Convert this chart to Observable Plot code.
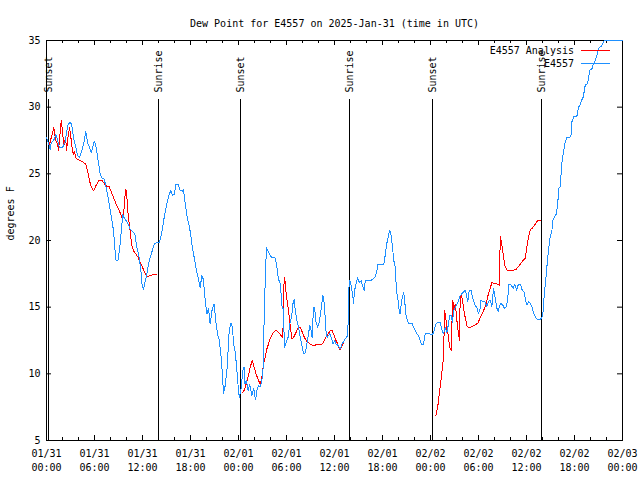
<!DOCTYPE html>
<html><head><meta charset="utf-8">
<script src="https://cdn.jsdelivr.net/npm/d3@7"></script>
<script src="https://cdn.jsdelivr.net/npm/@observablehq/plot@0.6"></script>
<style>html,body{margin:0;padding:0;background:#fff} svg{display:block}</style>
</head><body><div id="chart"></div>
<script>
const titleText = "Dew Point for E4557 on 2025-Jan-31 (time in UTC)";
const yLabelText = "degrees F";
const startTime = "2025-01-31T00:00:00Z";
const endTime = "2025-02-03T00:00:00Z";

const seriesNames = ["E4557 Analysis", "E4557"];
const seriesColors = ["#ff0000", "#1e90ff"];

// E4557 observations: hours after start, dew point (F)
const obsHours = [0.0,0.3,0.46,0.6,0.9,1.17,1.4,1.6,2.0,2.3,2.7,2.96,3.15,3.4,3.67,3.88,4.13,4.38,4.63,4.92,5.13,5.46,5.6,5.96,6.17,6.46,6.71,6.88,7.21,7.42,7.71,8.04,8.38,8.59,8.67,8.96,9.21,9.42,9.54,9.7,10.13,10.46,10.75,11.04,11.3,11.58,11.8,11.9,12.13,12.3,12.54,12.84,13.1,13.46,13.8,14.1,14.38,14.71,15.04,15.34,15.54,15.75,16.0,16.17,16.46,16.71,17.0,17.1,17.3,17.55,17.84,18.04,18.17,18.46,18.71,19.0,19.21,19.42,19.6,19.84,20.05,20.25,20.46,20.7,20.96,21.2,21.38,21.6,21.8,21.96,22.13,22.33,22.55,22.7,22.84,23.05,23.25,23.38,23.6,23.8,24.0,24.1,24.3,24.55,24.7,24.8,25.0,25.2,25.4,25.67,25.9,26.13,26.3,26.5,26.7,26.9,27.13,27.2,27.38,27.5,27.75,28.17,28.6,28.8,29.0,29.25,29.42,29.6,29.75,29.9,30.2,30.4,30.63,30.8,30.96,31.1,31.3,31.5,31.71,31.9,32.13,32.35,32.55,32.75,32.9,33.0,33.2,33.38,33.5,33.7,33.9,34.1,34.3,34.55,34.7,34.85,34.96,35.1,35.4,35.6,35.83,36.0,36.2,36.5,36.7,36.96,37.3,37.67,37.75,37.92,38.1,38.3,38.38,38.5,38.7,38.88,39.1,39.35,39.5,39.7,39.84,40.5,40.8,41.1,41.3,41.42,42.13,42.25,42.4,42.6,42.8,42.88,43.05,43.25,43.42,43.59,43.75,43.96,44.09,44.2,44.4,44.63,44.75,44.9,45.1,45.25,45.67,45.9,46.09,46.3,46.5,46.7,46.92,47.13,47.34,47.6,47.96,48.25,48.46,48.67,48.92,49.2,49.4,49.63,49.84,50.05,50.25,50.38,50.6,50.75,50.9,51.1,51.3,51.5,51.71,51.9,52.1,52.34,52.55,52.67,52.84,53.1,53.25,53.5,53.8,54.0,54.2,54.3,54.55,54.8,55.05,55.25,55.46,55.67,55.88,56.1,56.3,56.5,56.6,56.8,57.04,57.2,57.5,57.67,57.8,58.08,58.33,58.54,58.75,58.96,59.25,59.46,59.67,59.88,60.05,60.25,60.46,60.67,60.88,61.1,61.38,61.7,61.96,62.1,62.2,62.4,62.55,62.75,62.96,63.17,63.3,63.5,63.75,63.9,64.05,64.2,64.42,64.6,64.8,65.05,65.55,65.67,65.9,66.3,66.5,66.7,66.9,67.1,67.34,67.6,67.75,67.9,68.2,68.38,68.6,68.8,69.0,69.2,69.4,69.7,72.0];
const obsDewpoint = [27.7,27.2,26.85,27.35,27.5,27.97,27.5,26.97,26.97,27.35,28.72,28.85,28.7,27.6,26.97,26.35,26.2,26.7,27.2,28.17,27.35,26.85,26.6,27.47,27.1,25.97,24.98,24.7,24.6,24.1,23.22,21.98,20.73,19.1,18.53,18.53,19.73,21.2,21.98,21.7,21.35,20.85,20.7,20.48,19.48,18.73,17.73,16.86,16.29,16.86,17.48,18.48,18.98,19.73,19.85,19.85,20.48,21.73,22.73,23.48,23.73,23.4,23.48,24.23,24.23,23.73,23.7,23.85,22.98,21.85,21.1,20.4,19.73,18.73,17.86,17.1,16.48,17.36,17.1,15.49,14.49,14.9,13.74,14.8,15.24,13.74,12.99,12.5,11.49,10.24,8.5,9.1,10.24,11.74,13.24,13.8,13.5,12.24,11.6,10.24,8.75,8.25,8.75,10.24,10.5,9.24,9.5,8.75,9.24,8.37,8.9,8.05,8.75,9.1,9.0,9.4,10.74,14.2,17.73,19.48,19.1,18.69,18.69,17.98,17.1,16.7,15.1,14.85,11.99,12.24,12.74,13.74,14.24,15.24,15.6,14.74,13.99,13.5,12.74,12.24,11.49,11.6,12.24,12.99,13.6,13.5,12.74,14.99,14.99,13.86,13.5,13.86,14.74,15.86,15.36,14.11,12.99,12.74,12.99,12.74,12.24,12.5,12.24,12.1,11.87,12.24,12.6,12.87,16.24,16.98,16.6,15.8,15.24,16.24,16.74,17.23,16.86,16.98,16.6,16.24,16.98,16.98,17.1,17.28,17.73,18.18,18.18,18.48,19.23,19.98,20.48,20.78,20.48,19.48,18.48,17.98,16.24,15.49,14.74,14.49,15.49,16.11,15.74,14.49,13.99,13.79,13.79,13.49,13.24,12.99,12.87,12.49,12.19,12.19,13.04,13.04,12.99,12.93,13.24,13.74,13.86,13.86,13.36,12.99,13.49,13.11,13.74,14.36,14.36,13.86,14.74,14.99,15.24,15.49,15.86,15.99,16.11,16.29,15.74,15.44,16.24,16.24,15.74,15.24,14.94,14.49,14.86,15.49,15.44,15.4,15.04,15.41,15.53,15.04,16.41,15.66,14.91,14.66,15.04,15.29,15.16,14.91,15.04,15.78,16.73,16.66,16.41,16.73,16.28,16.66,16.73,16.28,16.16,15.53,15.16,15.41,15.3,15.04,14.54,14.29,14.04,14.04,14.29,14.79,15.79,17.03,18.03,19.28,20.28,20.7,21.53,21.78,22.0,22.78,23.9,24.03,25.77,26.52,27.27,27.72,27.77,28.9,29.27,29.33,30.02,30.15,30.52,30.77,31.64,31.77,32.14,32.77,32.89,33.27,33.52,33.89,34.4,34.5,34.6,35.0,35.0];

// E4557 Analysis: hours after start, dew point (F); null marks a gap
const anaHours = [0.375,0.8,0.92,1.0,1.2,1.4,1.5,1.84,2.0,2.1,2.2,2.4,2.5,2.7,2.88,3.05,3.2,3.33,3.5,3.6,3.7,4.3,4.63,4.92,5.13,5.34,5.54,5.88,6.17,6.59,6.88,7.13,7.42,7.84,8.04,8.46,8.8,9.09,9.38,9.5,9.63,9.8,9.92,10.05,10.2,10.38,10.46,10.63,10.88,11.17,11.46,11.71,12.0,12.29,12.54,12.96,13.38,13.8,
  19.0,
  24.55,24.7,24.96,25.25,25.46,25.71,25.96,26.2,26.5,26.71,26.92,27.13,27.34,27.55,27.75,27.96,28.17,28.38,28.7,29.0,29.3,29.54,29.71,29.84,29.96,30.13,30.3,30.46,30.67,30.88,31.1,31.3,31.5,31.71,31.9,32.13,32.34,32.63,32.96,33.38,33.8,34.42,34.63,34.84,35.05,35.25,35.46,35.71,35.88,36.1,36.3,36.5,36.7,36.9,37.2,37.67,
  43.0,
  48.67,48.9,49.2,49.4,49.63,49.76,49.9,50.05,50.2,50.4,50.59,50.67,50.8,50.92,51.1,51.3,51.5,51.63,51.71,51.84,52.0,52.25,52.55,52.75,53.17,53.6,53.92,54.2,54.6,54.96,55.25,55.67,56.1,56.63,56.71,56.9,57.13,57.33,57.63,58.17,58.71,59.13,59.54,59.84,60.05,60.25,60.46,60.8,61.1,61.38,61.8];
const anaDewpoint = [27.2,28.2,28.47,27.97,27.47,27.2,26.72,28.97,28.2,27.47,27.2,27.72,26.72,27.85,28.47,27.72,26.97,26.47,26.7,26.4,26.15,25.97,25.85,25.72,25.22,24.6,24.1,23.73,24.1,24.53,24.53,24.35,24.1,24.03,23.73,23.1,22.6,22.23,21.85,21.6,21.9,23.23,23.85,23.23,21.98,21.1,20.73,19.73,19.23,18.98,18.73,18.36,17.98,17.6,17.28,17.36,17.48,17.48,
  null,
  8.62,8.75,9.24,9.87,10.49,11.0,10.49,9.99,9.5,9.24,9.74,10.74,11.24,11.87,12.24,12.62,12.87,13.12,13.29,13.12,12.87,12.74,17.23,16.86,15.99,15.24,14.49,13.61,12.62,12.74,12.99,13.24,13.49,13.49,13.24,12.87,12.62,12.37,12.24,12.12,12.19,12.24,12.37,12.62,12.87,13.05,13.24,13.24,12.99,12.62,12.37,12.05,11.8,12.0,12.5,12.87,
  null,
  6.87,7.5,9.0,9.99,11.24,14.74,14.36,13.24,12.99,11.99,11.74,13.74,15.49,14.74,15.24,13.99,12.99,12.49,15.74,15.99,15.49,14.49,13.61,13.44,13.54,13.69,13.79,14.2,14.66,15.29,16.03,16.83,16.78,16.66,20.28,19.78,18.78,18.03,17.73,17.73,17.83,18.16,18.48,18.66,19.53,20.28,20.78,20.98,21.23,21.48,21.48];

// Sunrise / sunset markers (hours after start)
const sunHours = [0.25, 14.0, 24.25, 37.87, 48.25, 61.87];
const sunLabels = ["Sunset", "Sunrise", "Sunset", "Sunrise", "Sunset", "Sunrise"];

const yTicks = [5, 10, 15, 20, 25, 30, 35];
const xMajorTickHours = [0, 6, 12, 18, 24, 30, 36, 42, 48, 54, 60, 66, 72];
const xMinorTickHours = [2, 4, 8, 10, 14, 16, 20, 22, 26, 28, 32, 34, 38, 40, 44, 46, 50, 52, 56, 58, 62, 64, 68, 70];

const FONT = "'DejaVu Sans Mono', 'Liberation Mono', monospace";
const t0 = new Date(startTime);
const t1 = new Date(endTime);
const toDate = h => new Date(t0.getTime() + h * 3600e3);

const obs = obsHours.map((h, i) => ({t: toDate(h), v: obsDewpoint[i]}));
const ana = anaHours.map((h, i) => ({t: toDate(h), v: anaDewpoint[i]}));
const sun = sunHours.map((h, i) => ({t: toDate(h), label: sunLabels[i]}));
const majorTicks = xMajorTickHours.map(toDate);
const minorTicks = xMinorTickHours.map(toDate);

const fmtDate = d3.utcFormat("%m/%d");
const fmtTime = d3.utcFormat("%H:%M");
const tickFmt = d => fmtDate(d) + "\n" + fmtTime(d);

function legendMark(index, scales, values, dims) {
  const g = d3.create("svg:g").attr("font-family", FONT).attr("font-size", 10);
  const xr = dims.width - dims.marginRight;
  seriesNames.forEach((name, i) => {
    const y = dims.marginTop + 10 + i * 13;
    g.append("text").attr("x", xr - 48).attr("y", y).attr("dy", "0.35em")
      .attr("text-anchor", "end").attr("fill", "black").text(name);
    g.append("line").attr("x1", xr - 41).attr("x2", xr - 12)
      .attr("y1", y + 0.5).attr("y2", y + 0.5).attr("stroke", seriesColors[i])
      .attr("stroke-width", 1).attr("shape-rendering", "crispEdges");
  });
  return g.node();
}

const W = 640, H = 480;
const chart = Plot.plot({
  width: W, height: H,
  marginLeft: 46, marginRight: 18, marginTop: 40, marginBottom: 40,
  style: {fontFamily: FONT, fontSize: "10px", background: "white", color: "black", overflow: "visible"},
  x: {type: "utc", domain: [t0, t1], axis: null},
  y: {domain: [5, 35], axis: null},
  marks: [
    Plot.frame({stroke: "black", shapeRendering: "crispEdges"}),
    // inward tick marks on all four sides
    Plot.ruleX(majorTicks, {x: d => d, insetTop: 395, stroke: "black"}),
    Plot.ruleX(majorTicks, {x: d => d, insetBottom: 395, stroke: "black"}),
    Plot.ruleX(minorTicks, {x: d => d, insetTop: 397, stroke: "black"}),
    Plot.ruleX(minorTicks, {x: d => d, insetBottom: 397, stroke: "black"}),
    Plot.ruleY(yTicks, {y: d => d, insetRight: 571, stroke: "black"}),
    Plot.ruleY(yTicks, {y: d => d, insetLeft: 571, stroke: "black"}),
    Plot.ruleX(sun, {x: "t", insetTop: 59, stroke: "black", strokeWidth: 1, shapeRendering: "crispEdges"}),
    Plot.text(sun, {x: "t", text: "label", frameAnchor: "top", dy: 52, rotate: -90,
      textAnchor: "start", lineAnchor: "middle", fontSize: 10, fill: "black"}),
    Plot.line(ana, {x: "t", y: "v", stroke: seriesColors[0], strokeWidth: 1, shapeRendering: "crispEdges"}),
    Plot.line(obs, {x: "t", y: "v", stroke: seriesColors[1], strokeWidth: 1, shapeRendering: "crispEdges"}),
    Plot.axisX(majorTicks, {tickSize: 0, tickPadding: 7, tickFormat: tickFmt, lineHeight: 1.4,
      label: null, fontSize: 10, fill: "black"}),
    Plot.axisY(yTicks, {tickSize: 0, tickPadding: 6, label: null, fontSize: 10, fill: "black"}),
    Plot.text([titleText], {text: d => d, frameAnchor: "top", dy: -21, fontSize: 10, fill: "black"}),
    Plot.text([yLabelText], {text: d => d, frameAnchor: "left", dx: -36, rotate: -90, fontSize: 10, fill: "black"}),
    legendMark
  ]
});
document.getElementById("chart").appendChild(chart);
</script>
</body></html>
